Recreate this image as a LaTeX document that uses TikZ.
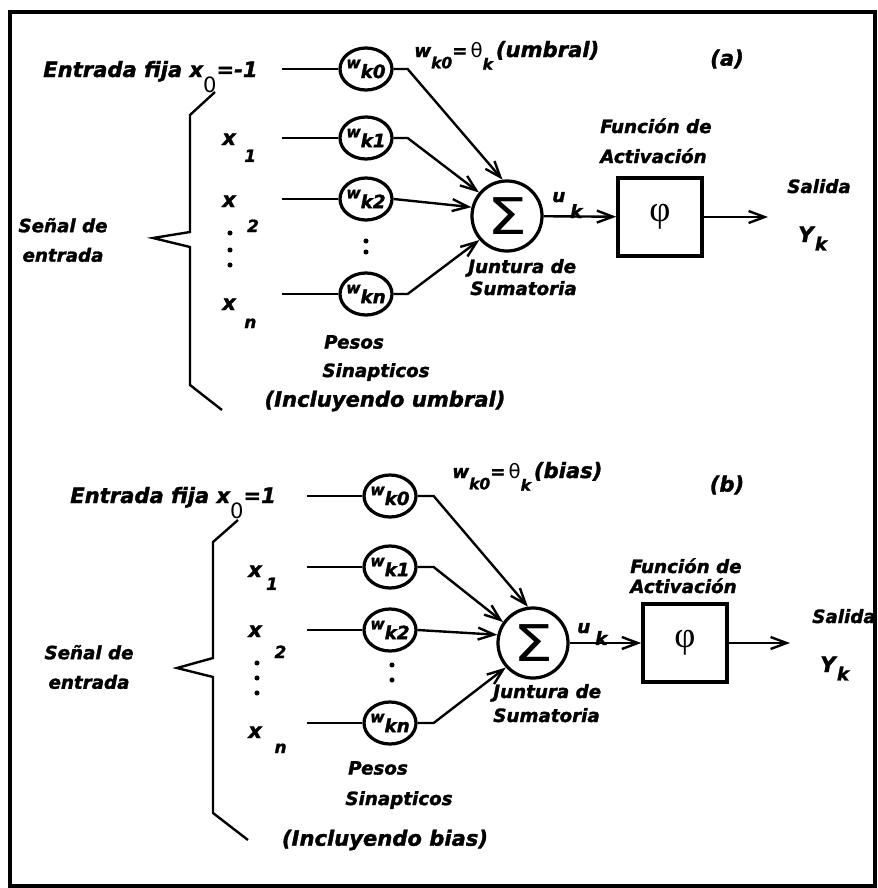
\documentclass[tikz,border=0pt]{standalone}
\usepackage{fontspec}
\setmainfont{DejaVu Sans}[BoldItalicFeatures={FakeBold=1.6}]
\newfontfamily\phifont{Liberation Serif}
\usetikzlibrary{arrows.meta,positioning,shapes.geometric}

\newcommand{\bajo}[3]{\raisebox{#1}{\fontsize{#2}{#2}\selectfont #3}}
\newcommand{\wk}[1]{{\fontsize{11}{11}\selectfont w}\bajo{-7pt}{13}{#1}}
\newcommand{\teta}{{\normalfont\fontsize{14}{14}\selectfont θ}}

\begin{document}
\begin{tikzpicture}[
  x=0.025cm, y=-0.025cm,
  txt/.style={inner sep=0pt,font=\fontsize{13}{15}\selectfont\bfseries\itshape},
  big/.style={inner sep=0pt,font=\fontsize{15}{18}\selectfont\bfseries\itshape},
  dos/.style={inner sep=0pt,align=center,font=\fontsize{13}{21}\selectfont\bfseries\itshape},
  peso/.style={ellipse,draw,line width=2.3pt,minimum width=1.3cm,minimum height=1.05cm,inner sep=-4pt,font=\bfseries\itshape},
  suma/.style={circle,draw,line width=2.3pt,minimum size=1.75cm,inner sep=0pt,font=\fontsize{36}{36}\selectfont},
  caja/.style={draw,line width=2.5pt,minimum width=2.1cm,minimum height=1.95cm,inner sep=0pt,font=\phifont\fontsize{26}{26}\selectfont},
  linea/.style={line width=1.7pt},
  arrow/.style={-{Straight Barb[length=4mm,width=3mm]},line width=1.7pt}
]
\useasboundingbox (0,0) rectangle (877,888);
\draw[line width=2.6pt] (10,12) rectangle (875,886);

% (a) con umbral
\node[big,anchor=base west] (ea) at (43,77) {Entrada fija x\bajo{-10.7pt}{15}{\normalfont 0}=-1};
\node[dos] (senala) at (63,240) {Señal de\\entrada};
\draw[linea] (215,92) -- (190,115) -- (190,232) -- (153,238) -- (190,247) -- (190,385) -- (222,410);
\node[big,anchor=base west] (xa1) at (222,145) {x\hspace{6pt}\bajo{-12pt}{12}{1}};
\node[big,anchor=base west] (xa2) at (222,207) {x\hspace{8pt}\bajo{-17.8pt}{12}{2}};
\node[big,anchor=base west] (xan) at (222,310) {x\hspace{6pt}\bajo{-12.8pt}{12}{n}};
\fill (230,233) circle (1.8pt) (230,250) circle (1.8pt) (230,265) circle (1.8pt);

\coordinate (ia0) at (282,69);
\coordinate (ia1) at (282,138);
\coordinate (ia2) at (282,199);
\coordinate (ian) at (282,294);
\node[peso] (wa0) at (366,69) {\wk{k0}};
\node[peso] (wa1) at (366,138) {\wk{k1}};
\node[peso] (wa2) at (366,199) {\wk{k2}};
\node[peso] (wan) at (366,294) {\wk{kn}};
\fill (366,241) circle (1.8pt) (366,252) circle (1.8pt);
\draw[linea] (ia0) -- (wa0);
\draw[linea] (ia1) -- (wa1);
\draw[linea] (ia2) -- (wa2);
\draw[linea] (ian) -- (wan);

\node[txt,anchor=base west] (ta) at (414,57) {w\bajo{-8pt}{11}{k0}=\,\teta\bajo{-9pt}{11}{k}\,{\fontsize{15}{15}\selectfont(umbral)}};
\node[big] (la) at (727,59) {(a)};

\node[suma] (sa) at (507,216) {\scalebox{1.25}[1]{Σ}};
\draw[arrow] (wa0.east) -- ++(14,0) -- (sa.97);
\draw[arrow] (wa1.east) -- ++(14,0) -- (sa.140);
\draw[arrow] (wa2.east) -- (sa.166);
\draw[arrow] (wan.east) -- ++(14,0) -- (sa.221);
\node[txt,anchor=base west] (ja) at (468,273) {Juntura de};
\node[txt,anchor=base west] (sma) at (470,295) {Sumatoria};
\node[txt] (pesa) at (354,342) {Pesos};
\node[txt] (sina) at (376,372) {Sinapticos};
\node[big] (inca) at (385,401) {(Incluyendo umbral)};

\node[txt,anchor=base west] (ua) at (552,202) {u\hspace{3.5pt}\bajo{-11.4pt}{13}{k}};
\node[txt,anchor=base west] (fa) at (600,133) {Función de};
\node[txt,anchor=base west] (aa) at (600,163) {Activación};
\node[caja] (pa) at (660,217) {φ};
\coordinate (oa) at (768,217);
\draw[arrow] (sa) -- (pa);
\draw[arrow] (pa) -- (oa);
\node[txt,anchor=base west] (sala) at (787,193) {Salida};
\node[big,anchor=base west] (ya) at (798,242) {Y\hspace{1pt}\bajo{-6pt}{13}{k}};

% (b) con bias
\node[big,anchor=base west] (eb) at (70,503) {Entrada fija x\bajo{-10.7pt}{15}{\normalfont 0}=1};
\node[dos] (senalb) at (89,667) {Señal de\\entrada};
\draw[linea] (238,520) -- (213,542) -- (213,658) -- (177,668) -- (213,677) -- (213,813) -- (248,840);
\node[big,anchor=base west] (xb1) at (248,577) {x\hspace{3pt}\bajo{-9.2pt}{12}{1}};
\node[big,anchor=base west] (xb2) at (248,637) {x\hspace{9pt}\bajo{-15pt}{12}{2}};
\node[big,anchor=base west] (xbn) at (248,738) {x\hspace{9pt}\bajo{-10.7pt}{12}{n}};
\fill (257,663) circle (1.8pt) (257,678) circle (1.8pt) (257,693) circle (1.8pt);

\coordinate (ib0) at (307,496);
\coordinate (ib1) at (307,567);
\coordinate (ib2) at (307,630);
\coordinate (ibn) at (307,723);
\node[peso] (wb0) at (390,496) {\wk{k0}};
\node[peso] (wb1) at (390,567) {\wk{k1}};
\node[peso] (wb2) at (390,630) {\wk{k2}};
\node[peso] (wbn) at (390,723) {\wk{kn}};
\fill (392,665) circle (1.8pt) (392,680) circle (1.8pt);
\draw[linea] (ib0) -- (wb0);
\draw[linea] (ib1) -- (wb1);
\draw[linea] (ib2) -- (wb2);
\draw[linea] (ibn) -- (wbn);

\node[txt,anchor=base west] (tb) at (452,478) {w\bajo{-8pt}{11}{k0}=\,\teta\bajo{-9pt}{11}{k}\,{\fontsize{15}{15}\selectfont(bias)}};
\node[big] (lb) at (727,485) {(b)};

\node[suma] (sb) at (533,643) {\scalebox{1.25}[1]{Σ}};
\draw[arrow] (wb0.east) -- ++(16,0) -- (sb.98);
\draw[arrow] (wb1.east) -- ++(16,0) -- (sb.145);
\draw[arrow] (wb2.east) -- (sb.167);
\draw[arrow] (wbn.east) -- ++(16,0) -- (sb.222);
\node[txt,anchor=base west] (jb) at (493,698) {Juntura de};
\node[txt,anchor=base west] (smb) at (493,722) {Sumatoria};
\node[txt] (pesb) at (378,768) {Pesos};
\node[txt] (sinb) at (399,800) {Sinapticos};
\node[big] (incb) at (385,840) {(Incluyendo bias)};

\node[txt,anchor=base west] (ub) at (577,633) {u\hspace{3.5pt}\bajo{-8.5pt}{13}{k}};
\node[txt,anchor=base west] (fb) at (630,573) {Función de};
\node[txt,anchor=base west] (ab) at (630,593) {Activación};
\node[caja] (pb) at (685,643) {φ};
\coordinate (ob) at (790,643);
\draw[arrow] (sb) -- (pb);
\draw[arrow] (pb) -- (ob);
\node[txt,anchor=base west] (salb) at (812,623) {Salida};
\node[big,anchor=base west] (yb) at (820,672) {Y\hspace{1pt}\bajo{-6pt}{13}{k}};
\end{tikzpicture}
\end{document}
